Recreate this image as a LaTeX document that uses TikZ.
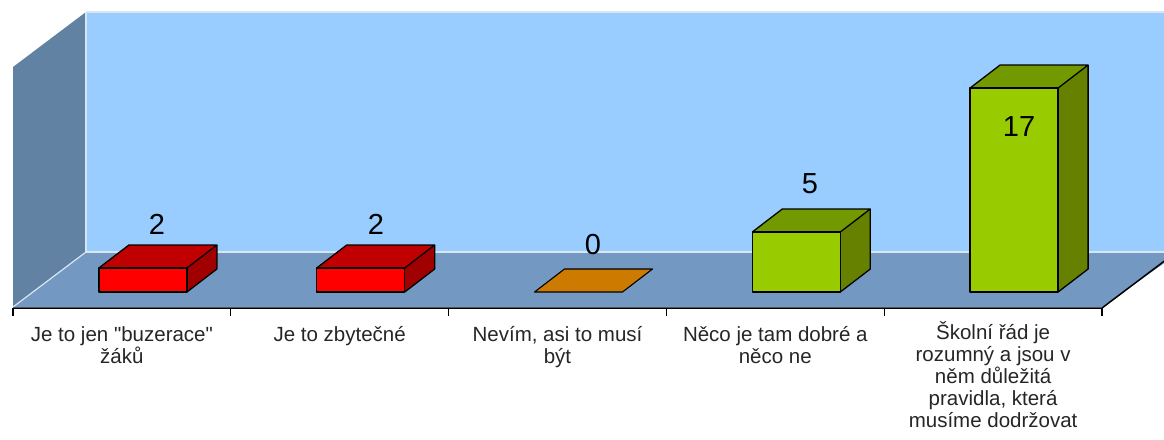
\documentclass[tikz,border=0pt]{standalone}
\usepackage{fontspec}
\setmainfont{Liberation Sans}[Ligatures=TeXOff]
\definecolor{wallback}{HTML}{99CCFF}
\definecolor{wallside}{HTML}{6282A4}
\definecolor{floorc}{HTML}{7399C3}
\definecolor{edgec}{HTML}{D8E6F2}
\definecolor{redfront}{HTML}{FF0000}
\definecolor{redtop}{HTML}{C00000}
\definecolor{redside}{HTML}{A00000}
\definecolor{grnfront}{HTML}{99CC00}
\definecolor{grntop}{HTML}{739900}
\definecolor{grnside}{HTML}{668000}
\definecolor{orangec}{HTML}{CC7A00}
\newcommand{\ftop}{\rule{0pt}{19pt}}
% \barbox{x0}{h}{front}{top}{side}
\newcommand{\barbox}[5]{%
  \fill[#3] (#1,292) rectangle ({#1+88},{292-#2});
  \fill[#4] (#1,{292-#2}) -- ({#1+30},{269-#2}) -- ({#1+118},{269-#2}) -- ({#1+88},{292-#2}) -- cycle;
  \fill[#5] ({#1+88},{292-#2}) -- ({#1+118},{269-#2}) -- ({#1+118},269) -- ({#1+88},292) -- cycle;
  \draw[baredge] (#1,292) rectangle ({#1+88},{292-#2});
  \draw[baredge] (#1,{292-#2}) -- ({#1+30},{269-#2}) -- ({#1+118},{269-#2}) -- ({#1+88},{292-#2});
  \draw[baredge] ({#1+118},{269-#2}) -- ({#1+118},269) -- ({#1+88},292);
}
\begin{document}
\begin{tikzpicture}[x=1pt,y=-1pt,
  baredge/.style={draw=black,line width=1.3pt,line join=round},
  catlbl/.style={anchor=north,inner sep=0pt,align=center,font=\fontsize{20.5}{22}\selectfont,text=black!85},
  vallbl/.style={anchor=center,inner sep=0pt,font=\fontsize{29}{32}\selectfont},
  wallline/.style={draw=edgec,line width=1.2pt}]
\useasboundingbox (0,0) rectangle (1164,439);
\fill[white] (0,0) rectangle (1164,439);
\begin{scope}
\clip (0,0) rectangle (1164,439);
% walls and floor
\fill[wallback] (86,12) rectangle (1180,252);
\fill[wallside] (13,67) -- (86,12) -- (86,252) -- (13,307) -- cycle;
\fill[floorc] (13,307) -- (86,252) -- (1180,252) -- (1102,307) -- cycle;
\draw[wallline] (86,12) -- (1180,12);
\draw[wallline] (86,12) -- (86,252);
\draw[wallline] (86,252) -- (1180,252);
\draw[wallline] (86,252) -- (13,307);
% axis
\draw[black,line width=1.5pt] (13,308) -- (1102,308) -- (1175,253);
\foreach \t in {13,230.8,448.6,666.4,884.2,1102}
  \draw[black,line width=1.2pt] (\t,308) -- (\t,316);
% bars
\barbox{98.9}{24}{redfront}{redtop}{redside}
\barbox{316.7}{24}{redfront}{redtop}{redside}
\fill[orangec] (534.5,292) -- (564.5,269) -- (652.5,269) -- (622.5,292) -- cycle;
\draw[baredge,line width=1.1pt] (534.5,292) -- (564.5,269) -- (652.5,269) -- (622.5,292) -- cycle;
\barbox{752.3}{60}{grnfront}{grntop}{grnside}
\barbox{970.1}{204}{grnfront}{grntop}{grnside}
\end{scope}
% value labels
\node[vallbl] (v1) at (157,224) {2};
\node[vallbl] (v2) at (376,224) {2};
\node[vallbl] (v3) at (593,245) {0};
\node[vallbl] (v4) at (810,184) {5};
\node[vallbl] (v5) at (1019,127) {17};
% category labels
\node[catlbl] (c1) at (121.9,322) {\ftop Je to jen "buzerace"\\žáků};
\node[catlbl] (c2) at (339.7,322) {\ftop Je to zbytečné};
\node[catlbl] (c3) at (557.5,322) {\ftop Nevím, asi to musí\\být};
\node[catlbl] (c4) at (775.3,322) {\ftop Něco je tam dobré a\\něco ne};
\node[catlbl] (c5) at (993.1,320) {\ftop Školní řád je\\rozumný a jsou v\\něm důležitá\\pravidla, která\\musíme dodržovat};
\end{tikzpicture}
\end{document}
